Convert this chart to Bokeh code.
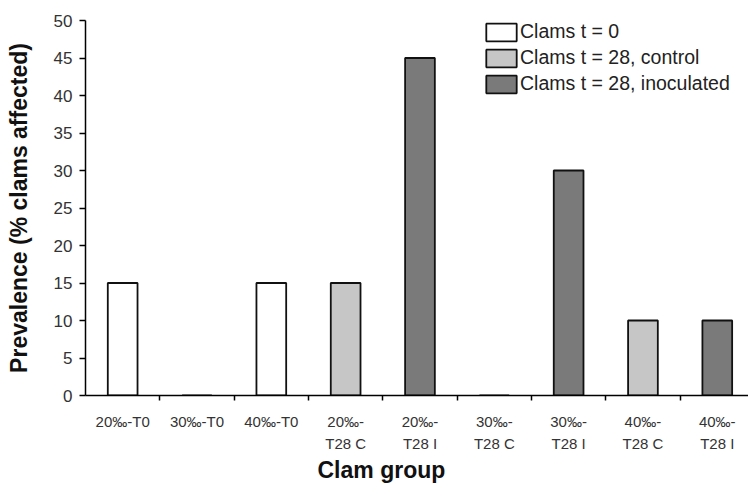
from bokeh.plotting import figure
from bokeh.models import Range1d, FixedTicker, ColumnDataSource, Legend, LegendItem, Title
from bokeh.embed import file_html
from bokeh.resources import INLINE
import numpy as np

categories = ["20\u2030-T0", "30\u2030-T0", "40\u2030-T0",
              "20\u2030-\nT28 C", "20\u2030-\nT28 I",
              "30\u2030-\nT28 C", "30\u2030-\nT28 I",
              "40\u2030-\nT28 C", "40\u2030-\nT28 I"]
prevalence = [15, 0, 15, 15, 45, 0, 30, 10, 10]
groups = ["t0", "t0", "t0", "ctrl", "inoc", "ctrl", "inoc", "ctrl", "inoc"]
series_names = ["t0", "ctrl", "inoc"]
series_labels = ["Clams t = 0", "Clams t = 28, control", "Clams t = 28, inoculated"]
series_colors = ["#ffffff", "#c6c6c6", "#7a7a7a"]
y_ticks = list(range(0, 51, 5))

FONT = "Liberation Sans"
n = len(categories)
centers = np.arange(n) + 0.5

p = figure(width=748, height=484, output_backend="svg", toolbar_location=None,
           x_range=Range1d(0, 8.92), y_range=Range1d(0, 50),
           min_border_left=85, min_border_right=0, min_border_top=20, min_border_bottom=89)
p.outline_line_color = None
p.xgrid.visible = False
p.ygrid.visible = False

items = []
for name, label, color in zip(series_names, series_labels, series_colors):
    idx = [i for i, g in enumerate(groups) if g == name]
    src = ColumnDataSource(dict(x=[centers[i] for i in idx], top=[prevalence[i] for i in idx]))
    r = p.vbar(x="x", top="top", width=0.4, bottom=0, source=src,
               fill_color=color, line_color="#111111", line_width=1.8)
    items.append(LegendItem(label=label, renderers=[r]))

legend = Legend(items=items, location=(397, 300), border_line_color=None,
                background_fill_alpha=0, padding=2, margin=0, spacing=3,
                glyph_width=38, glyph_height=22, label_height=22, label_standoff=0,
                label_text_font=FONT, label_text_font_size="19.5px", label_text_color="#222222")
p.add_layout(legend)

# x axis
xa = p.xaxis[0]
xa.ticker = FixedTicker(ticks=list(centers), minor_ticks=list(range(1, n)))
xa.major_label_overrides = {float(c): lab for c, lab in zip(centers, categories)}
xa.major_tick_out = 0
xa.major_tick_in = 0
xa.minor_tick_out = 5
xa.minor_tick_in = 0
xa.minor_tick_line_color = "black"
xa.minor_tick_line_width = 1.5
xa.axis_line_color = "black"
xa.axis_line_width = 1.5
xa.major_label_text_font = FONT
xa.major_label_text_font_size = "15px"
xa.major_label_text_color = "#333333"
xa.major_label_text_line_height = 1.3
xa.major_label_standoff = 12

xtitle = Title(text="Clam group", align="left", offset=232, standoff=0,
               text_font=FONT, text_font_style="bold", text_font_size="23px",
               text_color="#111111")
p.add_layout(xtitle, "below")

# y axis
ya = p.yaxis[0]
ya.ticker = FixedTicker(ticks=y_ticks, minor_ticks=[])
ya.major_tick_out = 6
ya.major_tick_in = 0
ya.major_tick_line_color = "black"
ya.major_tick_line_width = 1.5
ya.axis_line_color = "black"
ya.axis_line_width = 1.5
ya.major_label_text_font = FONT
ya.major_label_text_font_size = "17px"
ya.major_label_text_color = "#333333"
ya.major_label_standoff = 7
ya.axis_label = "Prevalence (% clams affected)"
ya.axis_label_text_font = FONT
ya.axis_label_text_font_style = "bold"
ya.axis_label_text_font_size = "23px"
ya.axis_label_text_color = "#111111"
ya.axis_label_standoff = 19

open("out.html", "w").write(file_html(p, INLINE))
